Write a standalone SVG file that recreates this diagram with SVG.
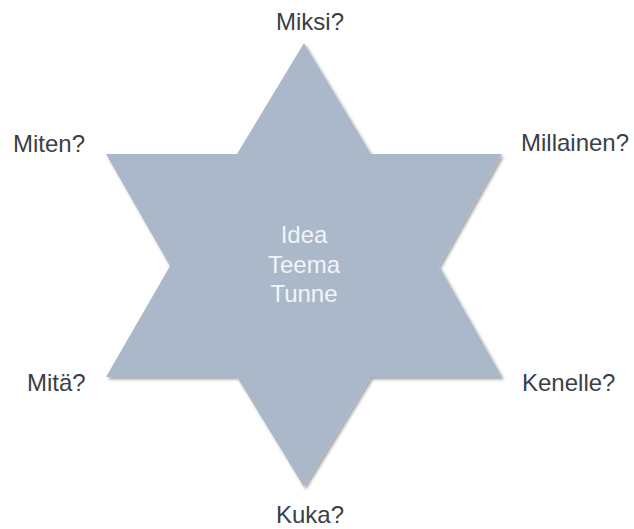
<svg xmlns="http://www.w3.org/2000/svg" width="634" height="529" viewBox="0 0 634 529">
<style>
.lbl{font-family:"Liberation Sans",Arial,sans-serif;font-size:24px;fill:#3b3f45}
.ctr{font-family:"Liberation Sans",Arial,sans-serif;font-size:24px;fill:#f2f4f7;text-anchor:middle}
</style>
<defs>
<filter id="sh" x="-10%" y="-10%" width="120%" height="120%">
<feDropShadow dx="2" dy="2.5" stdDeviation="1.5" flood-color="#000" flood-opacity="0.35"/>
</filter>
</defs>
<rect width="634" height="529" fill="#fff"/>
<g id="star">
<polygon points="304,43 371,154 502,154 439,266 502,377 371,377 304,487 237,377 106,377 170,266 106,154 237,154" fill="#abb8ca" filter="url(#sh)"/>
<text class="ctr" x="304" y="243">Idea</text>
<text class="ctr" x="304" y="273">Teema</text>
<text class="ctr" x="304" y="302">Tunne</text>
</g>
<g id="miksi"><text class="lbl" x="310" y="30" text-anchor="middle">Miksi?</text></g>
<g id="miten"><text class="lbl" x="13" y="152">Miten?</text></g>
<g id="millainen"><text class="lbl" x="521" y="151">Millainen?</text></g>
<g id="mita"><text class="lbl" x="27" y="391">Mitä?</text></g>
<g id="kenelle"><text class="lbl" x="522" y="391">Kenelle?</text></g>
<g id="kuka"><text class="lbl" x="310" y="523" text-anchor="middle">Kuka?</text></g>
</svg>
